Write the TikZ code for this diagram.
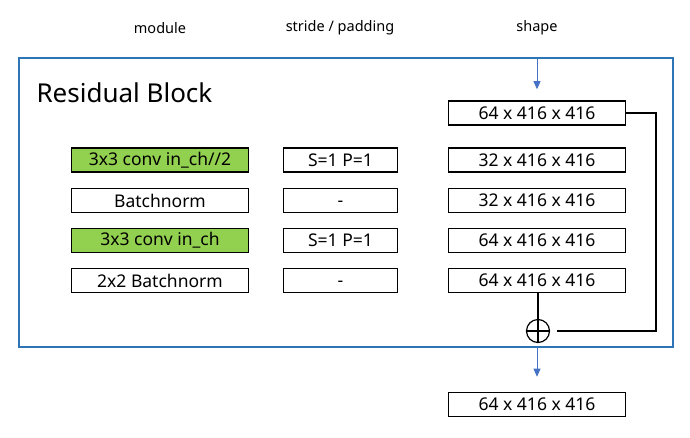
\documentclass[tikz,border=0pt]{standalone}
\usepackage{fontspec}
\setmainfont{Noto Sans}
\usetikzlibrary{arrows.meta}
\definecolor{frameblue}{RGB}{46,117,182}
\definecolor{arrowblue}{RGB}{68,114,196}
\definecolor{convgreen}{RGB}{146,208,80}

\begin{document}
\begin{tikzpicture}[x=1pt,y=-1pt,
          box/.style={draw,line width=1.6pt,minimum height=24pt,
                      inner sep=0pt,font=\fontsize{17.5}{20}\selectfont},
          modbox/.style={box,minimum width=177pt},
          strbox/.style={box,minimum width=114pt},
          shpbox/.style={box,minimum width=177pt},
          conv/.style={fill=convgreen},
          head/.style={font=\fontsize{14.5}{17}\selectfont},
          flow/.style={arrowblue,line width=0.8pt,-{Triangle[length=8pt,width=7pt]}},
          skip/.style={line width=1.6pt}]
        \useasboundingbox (0,0) rectangle (690,437);
        % column titles
        \node[head](hmod) at (160,28){module};
        \node[head](hstr) at (340,28){stride / padding};
        \node[head](hshp) at (537,28){shape};
        % block frame
        \draw[frameblue,line width=2.5pt] (19,58) rectangle (673,347);
        \node[anchor=west,font=\fontsize{26}{30}\selectfont](title) at (33,93){Residual Block};
        % rows
        \node[shpbox](s0) at (537,113){64 x 416 x 416};
        \node[modbox,conv](m1) at (160,160){3x3 conv in\_ch//2};
        \node[strbox](p1) at (340.5,160){S=1 P=1};
        \node[shpbox](s1) at (537,160){32 x 416 x 416};
        \node[modbox](m2) at (160,200.5){Batchnorm};
        \node[strbox](p2) at (340.5,200.5){\vphantom{0}-};
        \node[shpbox](s2) at (537,200.5){32 x 416 x 416};
        \node[modbox,conv](m3) at (160,240.5){3x3 conv in\_ch};
        \node[strbox](p3) at (340.5,240.5){S=1 P=1};
        \node[shpbox](s3) at (537,240.5){64 x 416 x 416};
        \node[modbox](m4) at (160,280.5){2x2 Batchnorm};
        \node[strbox](p4) at (340.5,280.5){\vphantom{0}-};
        \node[shpbox](s4) at (537,280.5){64 x 416 x 416};
        \node[shpbox](out) at (537,404.5){64 x 416 x 416};
        % residual sum
        \node[draw,circle,line width=1.2pt,minimum size=23pt,inner sep=0pt](add) at (538,331){};
        \draw[line width=1.2pt] (add.north)--(add.south) (add.west)--(add.east);
        \coordinate(in) at (537,59);
        \coordinate(bend) at (656,331);
        \coordinate(exit) at (537,347);
        \draw[flow,shorten >=11pt](in)--(s0.north);
        \draw[skip](s4.south-|add)--([yshift=-2pt]add.north);
        \draw[skip](s0.east)-|(bend)--([xshift=7pt]add.east);
        \draw[flow,shorten >=15pt](exit)--(out.north);
      \end{tikzpicture}
\end{document}
